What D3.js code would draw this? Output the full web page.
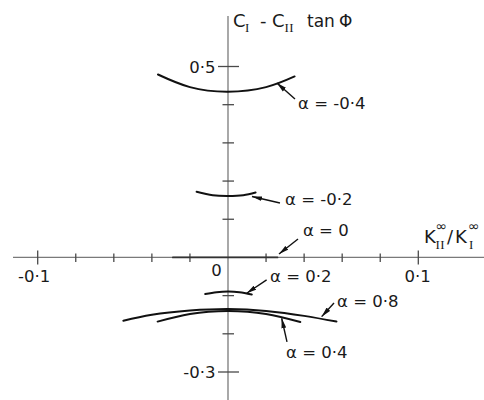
<!DOCTYPE html>
<html>
<head>
<meta charset="utf-8">
<script src="https://cdn.jsdelivr.net/npm/d3@7"></script>
<style>
  html, body { margin: 0; padding: 0; background: #fff; }
  svg { display: block; }
  text { font-family: "DejaVu Sans", sans-serif; fill: #1a1a1a; }
  .roman { font-family: "Liberation Serif", "DejaVu Serif", serif; }
</style>
</head>
<body>
<svg id="chart" width="484" height="400"></svg>
<script>
// Tick values and labels
const xTicksMinor = [-0.08, -0.06, -0.04, -0.02, 0.02, 0.04, 0.06, 0.08];
const xTicksMajor = [-0.1, 0.1];
const xTickLabels = ["-0·1", "0·1"];
const yTicksMinor = [0.4, 0.3, 0.2, 0.1, -0.1, -0.2];
const yTicksMajor = [0.5, -0.3];
const yTickLabels = ["0·5", "-0·3"];

// Curves of C_I - C_II tan(phi) against K_II/K_I for each alpha
const alphaValues = ["-0·4", "-0·2", "0", "0·2", "0·4", "0·8"];
const curveNeg04 = [[-0.0368, 0.479], [-0.02, 0.446], [0, 0.434], [0.02, 0.446], [0.035, 0.474]];
const curveNeg02 = [[-0.0165, 0.172], [-0.008, 0.163], [0, 0.161], [0.008, 0.163], [0.0145, 0.170]];
const curveZero  = [[-0.029, 0], [0, 0], [0.026, 0]];
const curvePos02 = [[-0.012, -0.096], [-0.006, -0.091], [0, -0.089], [0.006, -0.091], [0.0125, -0.097]];
const curvePos04 = [[-0.037, -0.168], [-0.02, -0.148], [0, -0.140], [0.02, -0.148], [0.038, -0.169]];
const curvePos08 = [[-0.055, -0.166], [-0.04, -0.150], [-0.02, -0.139], [0, -0.135], [0.02, -0.140], [0.04, -0.153], [0.057, -0.168]];
const curves = [curveNeg04, curveNeg02, curveZero, curvePos02, curvePos04, curvePos08];

// Leader arrows: tip, tail and label anchor, in data units
const leaderTips  = [[0.0257, 0.4569], [0.0126, 0.1597], [0.0268, 0.0090], [0.0098, -0.0938], [0.0282, -0.1592], [0.0492, -0.1550]];
const leaderTails = [[0.0352, 0.4150], [0.0273, 0.1427], [0.0368, 0.0483], [0.0203, -0.0589], [0.0310, -0.2213], [0.0557, -0.1191]];
const labelAnchors = [[0.0368, 0.3874], [0.0300, 0.1373], [0.0394, 0.0562], [0.0221, -0.0635], [0.0305, -0.2641], [0.0573, -0.1290]];

const svg = d3.select("#chart");
const x = d3.scaleLinear().domain([-0.1, 0.1]).range([37.7, 418.3]);
const y = d3.scaleLinear().domain([0.5, -0.3]).range([66.5, 372]);

const axisColor = "#7a7a7a";
const tickColor = "#4a4a4a";

// Axes lines
svg.append("line")
  .attr("x1", 13).attr("x2", 484)
  .attr("y1", y(0)).attr("y2", y(0))
  .attr("stroke", axisColor).attr("stroke-width", 1.3);
svg.append("line")
  .attr("x1", x(0)).attr("x2", x(0))
  .attr("y1", 16).attr("y2", 400)
  .attr("stroke", axisColor).attr("stroke-width", 1.3);

// x ticks
svg.selectAll(".xminor").data(xTicksMinor).join("line")
  .attr("x1", d => x(d)).attr("x2", d => x(d))
  .attr("y1", y(0) - 4).attr("y2", y(0) + 4.5)
  .attr("stroke", tickColor).attr("stroke-width", 1.3);
svg.selectAll(".xmajor").data(xTicksMajor).join("line")
  .attr("x1", d => x(d)).attr("x2", d => x(d))
  .attr("y1", y(0) - 7).attr("y2", y(0) + 7)
  .attr("stroke", tickColor).attr("stroke-width", 1.3);
svg.selectAll(".xlab").data(xTicksMajor).join("text")
  .attr("x", d => x(d) + 12.5).attr("y", y(0) + 25)
  .attr("text-anchor", "end").attr("font-size", 16.5)
  .text((d, i) => xTickLabels[i]);
svg.append("text")
  .attr("x", x(0) - 11.5).attr("y", y(0) + 18.5)
  .attr("text-anchor", "middle").attr("font-size", 16.5)
  .text("0");

// y ticks
svg.selectAll(".yminor").data(yTicksMinor).join("line")
  .attr("x1", x(0) - 5.5).attr("x2", x(0) + 6)
  .attr("y1", d => y(d)).attr("y2", d => y(d))
  .attr("stroke", tickColor).attr("stroke-width", 1.3);
svg.selectAll(".ymajor").data(yTicksMajor).join("line")
  .attr("x1", x(0) - 10).attr("x2", x(0) + 11)
  .attr("y1", d => y(d)).attr("y2", d => y(d))
  .attr("stroke", tickColor).attr("stroke-width", 1.3);
svg.selectAll(".ylab").data(yTicksMajor).join("text")
  .attr("x", x(0) - 12.5).attr("y", d => y(d) + 6)
  .attr("text-anchor", "end").attr("font-size", 16.5)
  .text((d, i) => yTickLabels[i]);

// Curves (alpha = 0 lies on the horizontal axis)
const line = d3.line().x(d => x(d[0])).y(d => y(d[1])).curve(d3.curveNatural);
svg.selectAll(".curve").data(curves).join("path")
  .attr("d", line)
  .attr("fill", "none")
  .attr("stroke", (d, i) => i === 2 ? "#333" : "#111")
  .attr("stroke-width", (d, i) => i === 2 ? 1.7 : 2)
  .attr("stroke-linecap", "round");

// Arrowhead marker
svg.append("defs").append("marker")
  .attr("id", "head")
  .attr("viewBox", "0 0 10 6")
  .attr("refX", 10).attr("refY", 3)
  .attr("markerWidth", 10).attr("markerHeight", 6)
  .attr("markerUnits", "userSpaceOnUse")
  .attr("orient", "auto")
  .append("path").attr("d", "M0,0.6 L10,3 L0,5.4 Z").attr("fill", "#111");

svg.selectAll(".leader").data(alphaValues).join("line")
  .attr("x1", (d, i) => x(leaderTails[i][0])).attr("y1", (d, i) => y(leaderTails[i][1]))
  .attr("x2", (d, i) => x(leaderTips[i][0])).attr("y2", (d, i) => y(leaderTips[i][1]))
  .attr("stroke", "#111").attr("stroke-width", 1.4)
  .attr("marker-end", "url(#head)");

svg.selectAll(".alab").data(alphaValues).join("text")
  .attr("x", (d, i) => x(labelAnchors[i][0])).attr("y", (d, i) => y(labelAnchors[i][1]))
  .attr("font-size", 16.5)
  .text(d => "α = " + d);

// y-axis title: C_I - C_II tan Φ
const yt = svg.append("g").attr("font-size", 18);
yt.append("text").attr("x", 233).attr("y", 26.5).text("C");
yt.append("text").attr("class", "roman").attr("x", 245).attr("y", 32).attr("font-size", 13).text("I");
yt.append("text").attr("x", 260).attr("y", 26.5).text("-");
yt.append("text").attr("x", 272).attr("y", 26.5).text("C");
yt.append("text").attr("class", "roman").attr("x", 284.5).attr("y", 32).attr("font-size", 13).attr("letter-spacing", 0.5).text("II");
yt.append("text").attr("x", 307).attr("y", 26.5).attr("font-size", 17).text("tan");
yt.append("text").attr("x", 339).attr("y", 26.5).attr("font-size", 17).text("Φ");

// x-axis title: K_II^∞ / K_I^∞
const xt = svg.append("g").attr("font-size", 18);
xt.append("text").attr("x", 424).attr("y", 243).text("K");
xt.append("text").attr("x", 435.5).attr("y", 231).attr("font-size", 14).text("∞");
xt.append("text").attr("class", "roman").attr("x", 435.5).attr("y", 249).attr("font-size", 13).attr("letter-spacing", 0.5).text("II");
xt.append("text").attr("x", 447).attr("y", 243).text("/");
xt.append("text").attr("x", 455).attr("y", 243).text("K");
xt.append("text").attr("x", 468).attr("y", 231).attr("font-size", 14).text("∞");
xt.append("text").attr("class", "roman").attr("x", 469).attr("y", 249).attr("font-size", 13).text("I");
</script>
</body>
</html>
